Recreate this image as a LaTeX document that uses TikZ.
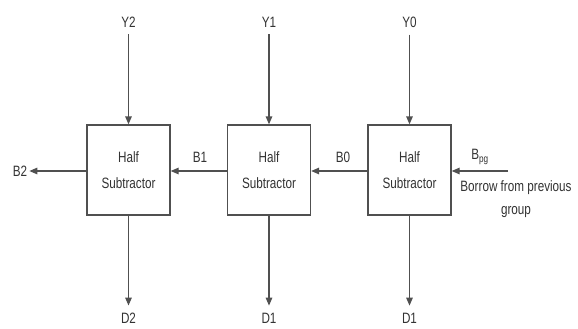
\documentclass[tikz,border=0pt]{standalone}
\usepackage{fontspec}
\setmainfont{Liberation Sans}[FakeStretch=0.78]
\usetikzlibrary{arrows.meta}
\definecolor{wire}{HTML}{505050}
\definecolor{ink}{HTML}{333333}
\begin{document}
\begin{tikzpicture}[x=1pt,y=-1pt,
  every node/.style={text=ink,font=\fontsize{15}{17}\selectfont,inner sep=0pt},
  hsbox/.style={draw=wire,line width=1.3pt,minimum width=83pt,minimum height=90pt,
    align=center,font=\fontsize{15}{26}\selectfont},
  sig/.style={draw=wire,line width=1.3pt,-{Triangle[length=8pt,width=6.5pt]}}]
\useasboundingbox[fill=white] (0,0) rectangle (578,329);

% half subtractor blocks
\node[hsbox] (hs2) at (128.5,170) {Half\\Subtractor};
\node[hsbox] (hs1) at (269,170) {Half\\Subtractor};
\node[hsbox] (hs0) at (409.5,170) {Half\\Subtractor};

% inputs
\node (y2) at (128.5,22) {Y2};
\node (y1) at (269,22) {Y1};
\node (y0) at (409.5,22) {Y0};
\draw[sig,shorten <=7pt] (y2.south) -- (hs2.north);
\draw[sig,shorten <=7pt] (y1.south) -- (hs1.north);
\draw[sig,shorten <=7pt] (y0.south) -- (hs0.north);

% difference outputs
\node (d2) at (128.5,318) {D2};
\node (d1) at (269,318) {D1};
\node (d0) at (409.5,318) {D1};
\draw[sig,shorten >=7pt] (hs2.south) -- (d2.north);
\draw[sig,shorten >=7pt] (hs1.south) -- (d1.north);
\draw[sig,shorten >=7pt] (hs0.south) -- (d0.north);

% borrow chain
\node (b2) at (20,171) {B2};
\node (b1) at (200,157) {B1};
\node (b0) at (343,157) {B0};
\node (bpg) at (480,157) {B\textsubscript{pg}};
\coordinate (bin) at (508,171);
\draw[sig,shorten >=2pt] (hs2.west |- 0,171) -- (b2.east |- 0,171);
\draw[sig] (hs1.west |- 0,171) -- (hs2.east |- 0,171);
\draw[sig] (hs0.west |- 0,171) -- (hs1.east |- 0,171);
\draw[sig] (bin) -- (hs0.east |- bin);
\node[align=center,font=\fontsize{15}{23}\selectfont] (note) at (516,199) {Borrow from previous\\group};
\end{tikzpicture}
\end{document}
